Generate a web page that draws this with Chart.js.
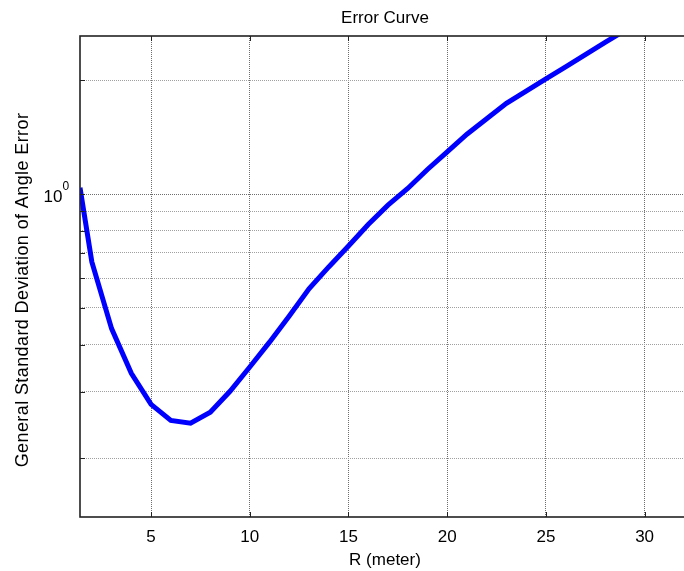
<!DOCTYPE html>
<html>
<head>
<meta charset="utf-8">
<script src="https://cdn.jsdelivr.net/npm/chart.js@4/dist/chart.umd.min.js"></script>
<style>
  html, body { margin: 0; padding: 0; background: #fff; overflow: hidden; }
  #wrap { width: 700px; height: 571px; }
</style>
</head>
<body>
<div id="wrap"><canvas id="errorChart" width="700" height="571"></canvas></div>
<script>
// R (meter) and the matching standard deviation
const rangeMeters = [1.4, 2, 3, 4, 5, 6, 7, 8, 9, 10, 11, 12, 13, 14, 15,
  16, 17, 18, 19, 20, 21, 22, 23, 24, 25, 26, 27, 28, 29];
const angleErrorStd = [1.04, 0.662, 0.441, 0.336, 0.278, 0.252, 0.248, 0.265, 0.301, 0.349,
  0.406, 0.476, 0.562, 0.642, 0.729, 0.831, 0.935, 1.035, 1.162, 1.294,
  1.441, 1.582, 1.738, 1.874, 2.018, 2.17, 2.34, 2.52, 2.71];

const xTickValues = [5, 10, 15, 20, 25, 30];
const yGridValues = [0.2, 0.3, 0.4, 0.5, 0.6, 0.7, 0.8, 0.9, 1, 2];

const chartTitle = 'Error Curve';
const xTitle = 'R (meter)';
const yTitle = 'General Standard Deviation of Angle Error';

const FONT = "'Liberation Sans', Arial, sans-serif";

// MATLAB-like frame: box, inward ticks, titles and the 10^0 label
const matlabFrame = {
  id: 'matlabFrame',
  afterDraw(chart) {
    const { ctx, chartArea: a, scales: { x, y } } = chart;
    ctx.save();

    ctx.strokeStyle = '#222';
    ctx.lineWidth = 1;
    ctx.beginPath();
    xTickValues.forEach(v => {
      const px = Math.round(x.getPixelForValue(v)) + 0.5;
      ctx.moveTo(px, a.top); ctx.lineTo(px, a.top + 5);
      ctx.moveTo(px, a.bottom); ctx.lineTo(px, a.bottom - 5);
    });
    yGridValues.forEach(v => {
      const py = Math.round(y.getPixelForValue(v)) + 0.5;
      ctx.moveTo(a.left, py); ctx.lineTo(a.left + 5, py);
    });
    ctx.stroke();

    ctx.lineWidth = 1.6;
    ctx.strokeRect(a.left, a.top, a.right - a.left, a.bottom - a.top);

    ctx.fillStyle = '#000';
    const cx = (a.left + a.right) / 2;

    ctx.font = '17px ' + FONT;
    ctx.textAlign = 'center';
    ctx.textBaseline = 'alphabetic';
    ctx.fillText(chartTitle, cx, 23);
    ctx.fillText(xTitle, cx, 565);

    // only labelled y tick: 10^0
    const p1 = y.getPixelForValue(1);
    ctx.textAlign = 'right';
    ctx.fillText('10', 62.5, p1 + 7.7);
    ctx.font = '12px ' + FONT;
    ctx.textAlign = 'left';
    ctx.fillText('0', 62.5, p1 - 4);

    ctx.translate(28, 290);
    ctx.rotate(-Math.PI / 2);
    ctx.font = '18px ' + FONT;
    ctx.letterSpacing = '0.4px';
    ctx.textAlign = 'center';
    ctx.fillText(yTitle, 0, 0);

    ctx.restore();
  }
};

new Chart(document.getElementById('errorChart'), {
  type: 'line',
  data: {
    datasets: [{
      data: rangeMeters.map((r, i) => ({ x: r, y: angleErrorStd[i] })),
      borderColor: '#0000ff',
      borderWidth: 5,
      pointRadius: 0,
      tension: 0,
      fill: false,
      clip: 0
    }]
  },
  options: {
    responsive: false,
    animation: false,
    events: [],
    layout: { padding: { top: 36, right: 10, left: 0, bottom: 0 } },
    plugins: {
      legend: { display: false },
      tooltip: { enabled: false },
      title: { display: false }
    },
    scales: {
      x: {
        type: 'linear',
        min: 1.4,
        max: 32.3,
        afterBuildTicks: s => { s.ticks = xTickValues.map(v => ({ value: v })); },
        afterFit: s => { s.height = 54; },
        grid: { color: '#6e6e6e', drawTicks: false },
        border: { display: false, dash: [1, 1] },
        ticks: {
          padding: 10,
          color: '#000',
          font: { family: FONT, size: 17 },
          maxRotation: 0,
          autoSkip: false
        }
      },
      y: {
        type: 'logarithmic',
        min: 0.14,
        max: 2.62,
        afterBuildTicks: s => { s.ticks = yGridValues.map(v => ({ value: v })); },
        afterFit: s => { s.width = 80; },
        grid: {
          drawTicks: false,
          color: c => (c.tick && c.tick.value === 1) ? '#6e6e6e' : '#a0a0a0'
        },
        border: { display: false, dash: [1, 1] },
        ticks: { display: false }
      }
    }
  },
  plugins: [matlabFrame]
});
</script>
</body>
</html>
